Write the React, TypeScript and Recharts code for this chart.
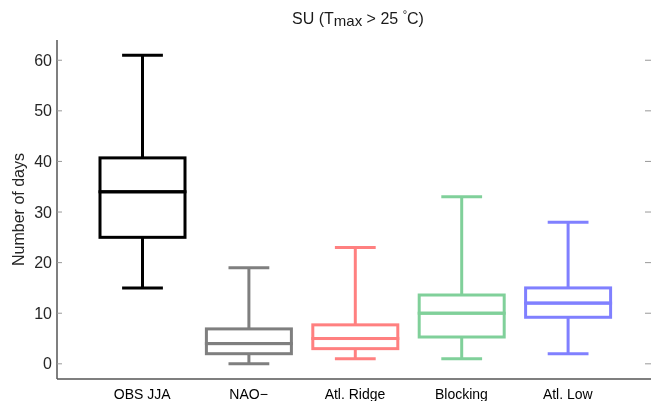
import React from "react";
import { ComposedChart, Bar, XAxis, YAxis } from "recharts";

// summary statistics per regime (days with Tmax > 25 °C)
const categories = ["OBS JJA", "NAO\u2212", "Atl. Ridge", "Blocking", "Atl. Low"];
const mins = [15, 0, 1, 1, 2];
const q1s = [25, 2, 3, 5.3, 9.2];
const medians = [34, 4, 5, 10, 12];
const q3s = [40.7, 6.9, 7.7, 13.6, 15];
const maxs = [61, 19, 23, 33, 28];
const colors = ["#000000", "#7f7f7f", "#ff8080", "#80d09a", "#8080ff"];
const yTicks = [0, 10, 20, 30, 40, 50, 60];

const W = 651;
const H = 401;
const PLOT_LEFT = 57;
const PLOT_RIGHT = 651;
const PLOT_TOP = 40;
const PLOT_BOTTOM = 379;
const FONT = "'Liberation Sans', Arial, Helvetica, sans-serif";

const data = categories.map((name, i) => ({
  name,
  color: colors[i],
  base: mins[i],
  lowWhisker: q1s[i] - mins[i],
  lowBox: medians[i] - q1s[i],
  highBox: q3s[i] - medians[i],
  highWhisker: maxs[i] - q3s[i],
}));

const LW = 3;

const WhiskerShape = (top: boolean) => (props: any) => {
  const { x, y, width, height, payload } = props;
  const cx = x + width / 2;
  const capHalf = width * 0.24;
  const capY = top ? y : y + height;
  return (
    <g stroke={payload.color} strokeWidth={LW} fill="none">
      <line x1={cx} x2={cx} y1={y} y2={y + height} />
      <line x1={cx - capHalf} x2={cx + capHalf} y1={capY} y2={capY} />
    </g>
  );
};

const BoxShape = (props: any) => {
  const { x, y, width, height, payload } = props;
  return (
    <rect
      x={x}
      y={y}
      width={width}
      height={height}
      fill="none"
      stroke={payload.color}
      strokeWidth={LW}
    />
  );
};

const YTick = (props: any) => {
  const { y, payload } = props;
  return (
    <g>
      <text
        x={PLOT_LEFT - 5}
        y={y}
        textAnchor="end"
        dominantBaseline="central"
        fontSize={16}
        fontFamily={FONT}
        fill="#262626"
      >
        {payload.value}
      </text>
      <line x1={PLOT_LEFT} x2={PLOT_LEFT + 5} y1={y} y2={y} stroke="#999" />
      <line x1={PLOT_RIGHT - 6} x2={PLOT_RIGHT} y1={y} y2={y} stroke="#999" />
    </g>
  );
};

const XTick = (props: any) => {
  const { x, payload } = props;
  return (
    <text
      x={x}
      y={PLOT_BOTTOM + 15}
      textAnchor="middle"
      dominantBaseline="central"
      fontSize={14}
      fontFamily={FONT}
      fill="#000"
    >
      {payload.value}
    </text>
  );
};

const YLabel = (props: any) => {
  const vb = props.viewBox;
  const cx = 18;
  const cy = vb.y + vb.height / 2;
  return (
    <text
      x={cx}
      y={cy}
      transform={`rotate(-90 ${cx} ${cy})`}
      textAnchor="middle"
      dominantBaseline="central"
      fontSize={16}
      fontFamily={FONT}
      fill="#262626"
    >
      Number of days
    </text>
  );
};

export default function App() {
  return (
    <div style={{ position: "fixed", left: 0, top: 0, width: W, height: H, background: "#fff" }}>
      <div
        style={{
          position: "absolute",
          left: PLOT_LEFT + 4,
          width: PLOT_RIGHT - PLOT_LEFT,
          top: 9,
          textAlign: "center",
          fontFamily: FONT,
          fontSize: 16,
          color: "#1a1a1a",
          lineHeight: "20px",
        }}
      >
        SU (T<span style={{ fontSize: 15, position: "relative", top: 2 }}>max</span> &gt; 25{" "}
        <span style={{ fontSize: 11, position: "relative", top: -6 }}>&#176;</span>C)
      </div>
      <ComposedChart
        width={W}
        height={H}
        data={data}
        margin={{ top: PLOT_TOP, right: W - PLOT_RIGHT, bottom: 0, left: 0 }}
      >
        <XAxis
          xAxisId="top"
          orientation="top"
          dataKey="name"
          height={0}
          tick={false}
          tickLine={false}
          axisLine={{ stroke: "#555", strokeWidth: 1.5 }}
          padding={{ left: 32, right: 30 }}
        />
        <XAxis
          dataKey="name"
          height={H - PLOT_BOTTOM}
          tickLine={false}
          axisLine={{ stroke: "#555", strokeWidth: 1.5 }}
          tick={XTick}
          interval={0}
          padding={{ left: 32, right: 30 }}
        />
        <YAxis
          width={PLOT_LEFT}
          domain={[-3, 64]}
          ticks={yTicks}
          tickLine={false}
          axisLine={{ stroke: "#555", strokeWidth: 1.5 }}
          tick={YTick}
          label={<YLabel />}
        />
        <Bar dataKey="base" stackId="b" barSize={85} fill="none" shape={() => <g />} isAnimationActive={false} />
        <Bar dataKey="lowWhisker" stackId="b" barSize={85} shape={WhiskerShape(false)} isAnimationActive={false} />
        <Bar dataKey="lowBox" stackId="b" barSize={85} shape={BoxShape} isAnimationActive={false} />
        <Bar dataKey="highBox" stackId="b" barSize={85} shape={BoxShape} isAnimationActive={false} />
        <Bar dataKey="highWhisker" stackId="b" barSize={85} shape={WhiskerShape(true)} isAnimationActive={false} />
      </ComposedChart>
    </div>
  );
}
